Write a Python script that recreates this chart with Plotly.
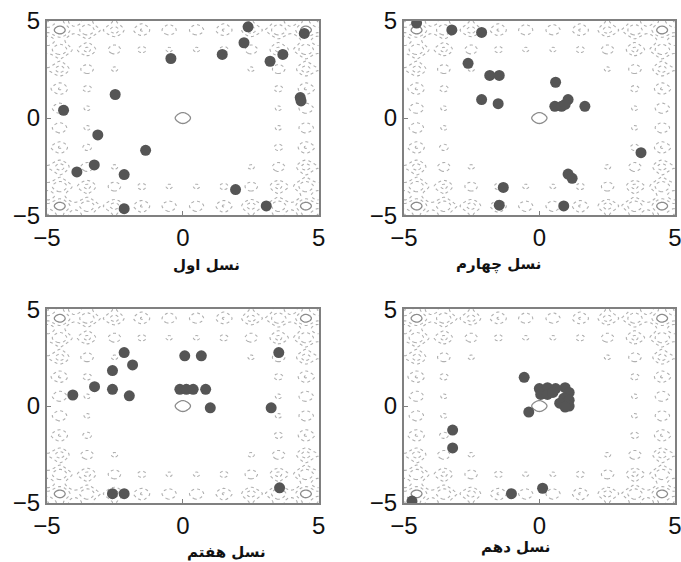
import numpy as np
import plotly.graph_objects as go

# Population positions per generation (x, y)
gen1_x = [2.40, 2.25, 4.47, -0.44, 1.45, 3.21, 3.68, -2.49, -4.39, 4.32, 4.35,
          -3.13, -1.37, -3.26, -3.90, -2.16, -2.16, 1.94, 3.07]
gen1_y = [4.69, 3.87, 4.35, 3.06, 3.27, 2.92, 3.27, 1.21, 0.40, 1.05, 0.88,
          -0.87, -1.66, -2.41, -2.77, -2.91, -4.66, -3.68, -4.52]

gen4_x = [-4.53, -3.23, -2.13, -2.63, -1.83, -1.48, -2.13, -1.52, 0.60, 0.57,
          0.82, 1.06, 0.95, 1.68, 3.75, 1.06, 1.21, -1.33, -1.48, 0.90]
gen4_y = [4.88, 4.53, 4.40, 2.81, 2.19, 2.19, 0.95, 0.74, 1.84, 0.60,
          0.60, 0.95, 0.70, 0.60, -1.78, -2.88, -3.10, -3.57, -4.48, -4.52]

gen7_x = [-4.05, -3.25, -2.59, -2.59, -2.16, -1.85, -1.97, 0.07, 0.68, -0.11,
          0.13, 0.38, 0.84, 1.01, 3.25, 3.53, 3.56, -2.59, -2.16]
gen7_y = [0.57, 1.00, 1.83, 0.86, 2.76, 2.12, 0.53, 2.59, 2.59, 0.86,
          0.86, 0.86, 0.86, -0.09, -0.09, 2.76, -4.22, -4.52, -4.52]

gen10_x = [-0.56, -0.39, 0.00, 0.30, 0.60, 0.95, 1.10, 0.05, 0.30, 0.50, 0.90,
           1.10, 0.75, 1.10, 0.95, -3.20, -3.20, -1.03, 0.12, -4.70]
gen10_y = [1.48, -0.31, 0.90, 0.95, 0.90, 0.95, 0.70, 0.60, 0.60, 0.70, 0.40,
           0.30, 0.15, 0.00, -0.05, -1.24, -2.16, -4.52, -4.24, -4.90]

titles = ["نسل اول", "نسل چهارم", "نسل هفتم", "نسل دهم"]
tick_vals = [-5, 0, 5]
tick_text = ["\u22125", "0", "5"]

# Rastrigin landscape used as the background
grid = np.linspace(-5, 5, 241)
gx, gy = np.meshgrid(grid, grid)
landscape = (20 + gx ** 2 - 10 * np.cos(2 * np.pi * gx)
             + gy ** 2 - 10 * np.cos(2 * np.pi * gy))

# small neighbourhoods of the global minimum and the four corner peaks
near_min = np.hypot(gx, gy) < 0.7
near_corner = (np.abs(gx) > 3.8) & (np.abs(gy) > 3.8)
rings_solid = np.where(near_min | near_corner, landscape, np.nan)

populations = [(gen1_x, gen1_y), (gen4_x, gen4_y), (gen7_x, gen7_y), (gen10_x, gen10_y)]

x_domains = [[0.069, 0.468], [0.593, 0.991], [0.069, 0.468], [0.593, 0.991]]
y_domains = [[0.617, 0.963], [0.617, 0.963], [0.105, 0.450], [0.105, 0.450]]
# title centres in pixels (x, y from the top)
title_pos = [(171, 265), (543, 264), (185, 552), (552, 547)]

W, H = 681, 562
fig = go.Figure()

for i, (px, py) in enumerate(populations):
    n = "" if i == 0 else str(i + 1)
    xa, ya = "x" + n, "y" + n
    # faint dotted level lines, only reached in the outer ring
    fig.add_trace(go.Contour(
        x=grid, y=grid, z=landscape, xaxis=xa, yaxis=ya,
        contours=dict(coloring="lines", start=50, end=62, size=12),
        colorscale=[[0, "#b0b0b0"], [1, "#b0b0b0"]],
        line=dict(width=1.1, dash="dot"), showscale=False, hoverinfo="skip"))
    # solid rings around the minimum and the corner peaks
    fig.add_trace(go.Contour(
        x=grid, y=grid, z=rings_solid, xaxis=xa, yaxis=ya,
        contours=dict(coloring="lines", start=12, end=74, size=62),
        colorscale=[[0, "#8c8c8c"], [1, "#8c8c8c"]],
        line=dict(width=1.3), showscale=False, hoverinfo="skip"))
    fig.add_trace(go.Scatter(
        x=px, y=py, xaxis=xa, yaxis=ya, mode="markers",
        marker=dict(size=11, color="#555555"), showlegend=False))

    axis_common = dict(range=[-5, 5], tickvals=tick_vals, ticktext=tick_text,
                       ticks="inside", ticklen=4, tickcolor="#808080",
                       showline=True, linecolor="#808080", linewidth=2,
                       mirror=True, showgrid=False, zeroline=False, automargin=False,
                       ticklabeloverflow="allow",
                       tickfont=dict(family="Liberation Sans, Arial", size=24, color="#111"))
    fig.layout["xaxis" + n] = dict(axis_common, domain=x_domains[i], anchor=ya)
    fig.layout["yaxis" + n] = dict(axis_common, domain=y_domains[i], anchor=xa)

    tx, ty = title_pos[i]
    fig.add_annotation(x=tx / W, y=1 - ty / H, xref="paper", yref="paper",
                       yanchor="middle", text="<b>" + titles[i] + "</b>",
                       showarrow=False,
                       font=dict(family="DejaVu Sans", size=15, color="#111"))

fig.update_layout(width=W, height=H, margin=dict(l=0, r=0, t=0, b=0),
                  paper_bgcolor="white", plot_bgcolor="white", showlegend=False)

fig.write_html("out.html")
